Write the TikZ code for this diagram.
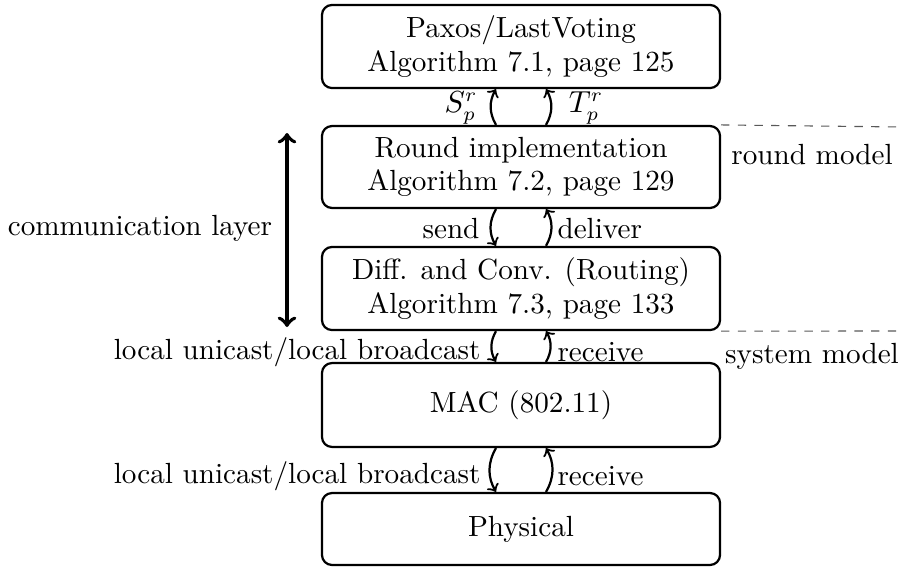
\documentclass[tikz,border=0pt]{standalone}
\usetikzlibrary{calc}
\begin{document}
\begin{tikzpicture}[x=0.36pt,y=-0.36pt,
  font=\fontsize{10.5pt}{12pt}\selectfont,
  layer/.style={draw,thick,rounded corners=3.6pt,minimum width=143.3pt,align=center,inner sep=0pt},
  link/.style={thick,->,bend angle=30},
  lbl/.style={inner sep=0pt},
  sep/.style={dashed,gray!70!black,thin}]
\useasboundingbox (0,0) rectangle (902,567);

% protocol stack
\node[layer,minimum height=29.9pt] (paxos) at (521,46.5) {Paxos/LastVoting\\Algorithm 7.1, page 125};
\node[layer,minimum height=29.5pt] (round) at (521,167) {Round implementation\\Algorithm 7.2, page 129};
\node[layer,minimum height=29.9pt] (diff) at (521,288.5) {Diff. and Conv. (Routing)\\Algorithm 7.3, page 133};
\node[layer,minimum height=30.2pt] (mac) at (521,405) {MAC (802.11)};
\node[layer,minimum height=25.9pt] (phys) at (521,529) {Physical};

% interfaces between neighbouring layers
\draw[link] ($(round.north)+(-25,0)$) to[bend left] ($(paxos.south)+(-25,0)$);
\draw[link] ($(round.north)+(25,0)$) to[bend right] ($(paxos.south)+(25,0)$);
\node[lbl] (s) at (461,108) {$S_p^r$};
\node[lbl] (t) at (586,108) {$T_p^r$};

\draw[link] ($(round.south)+(-25,0)$) to[bend right] ($(diff.north)+(-25,0)$);
\draw[link] ($(diff.north)+(25,0)$) to[bend right] ($(round.south)+(25,0)$);
\node[lbl,anchor=east] (send) at (480,229) {send};
\node[lbl,anchor=west] (deliver) at (557,229) {deliver};

\draw[link] ($(diff.south)+(-25,0)$) to[bend right] ($(mac.north)+(-25,0)$);
\draw[link] ($(mac.north)+(25,0)$) to[bend right] ($(diff.south)+(25,0)$);
\node[lbl,anchor=east] (lu1) at (481,352) {local unicast/local broadcast};
\node[lbl,anchor=west] (rc1) at (557,352) {receive};

\draw[link] ($(mac.south)+(-25,0)$) to[bend right] ($(phys.north)+(-25,0)$);
\draw[link] ($(phys.north)+(25,0)$) to[bend right] ($(mac.south)+(25,0)$);
\node[lbl,anchor=east] (lu2) at (481,476) {local unicast/local broadcast};
\node[lbl,anchor=west] (rc2) at (557,476) {receive};

% communication layer extent
\coordinate (ctop) at (287,133);
\coordinate (cbot) at (287,327);
\draw[line width=1.4pt,<->] (ctop) -- (cbot);
\node[lbl] (comm) at (140,228) {communication layer};

% model boundaries
\coordinate (rend) at (902,127);
\coordinate (send2) at (902,331);
\draw[sep] (round.north east) -- (rend);
\draw[sep] (diff.south east) -- (send2);
\node[lbl] (rm) at (812,155) {round model};
\node[lbl] (sm) at (812,356) {system model};
\end{tikzpicture}
\end{document}
